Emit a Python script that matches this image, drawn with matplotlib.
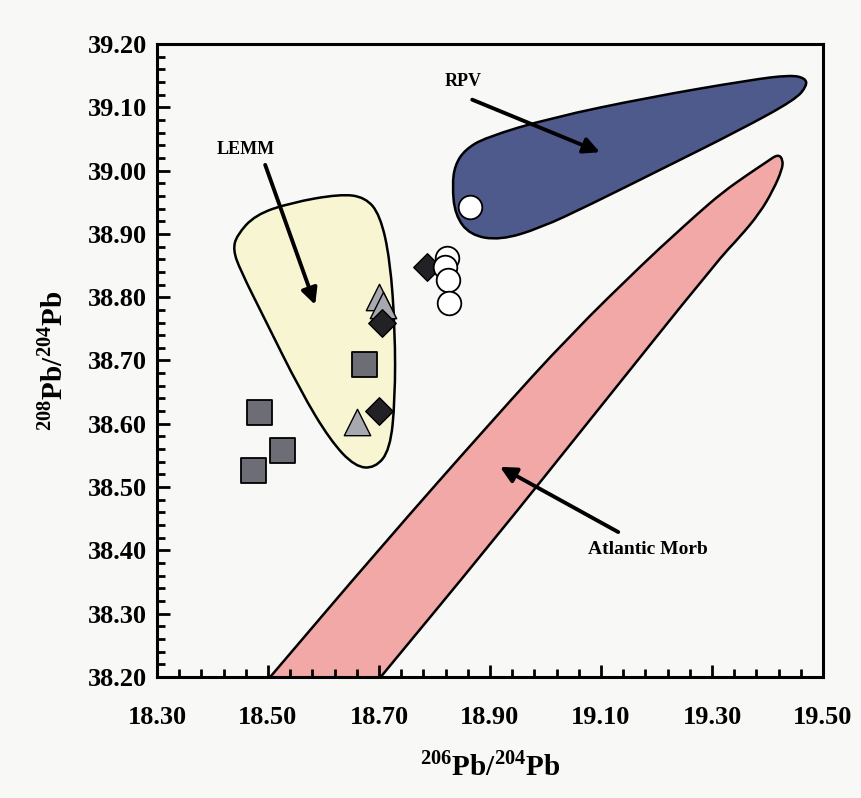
import numpy as np
import matplotlib
matplotlib.use("Agg")
import matplotlib.pyplot as plt
from matplotlib.path import Path
from matplotlib.patches import PathPatch
from matplotlib.ticker import MultipleLocator

plt.rcParams['font.family'] = 'Liberation Serif'
plt.rcParams['font.weight'] = 'bold'
plt.rcParams['mathtext.fontset'] = 'custom'
plt.rcParams['mathtext.rm'] = 'Liberation Serif:bold'
plt.rcParams['mathtext.bf'] = 'Liberation Serif:bold'

# axis ticks
x_ticks = [18.30, 18.50, 18.70, 18.90, 19.10, 19.30, 19.50]
x_labels = ['18.30', '18.50', '18.70', '18.90', '19.10', '19.30', '19.50']
y_ticks = [38.20, 38.30, 38.40, 38.50, 38.60, 38.70, 38.80, 38.90, 39.00, 39.10, 39.20]
y_labels = ['38.20', '38.30', '38.40', '38.50', '38.60', '38.70', '38.80', '38.90',
            '39.00', '39.10', '39.20']

# field outlines (206Pb/204Pb, 208Pb/204Pb)
rpv_x = [18.832, 18.837, 18.855, 18.891, 19.008, 19.188, 19.368, 19.441, 19.468,
         19.471, 19.450, 19.350, 19.206, 19.080, 18.990, 18.918, 18.864, 18.837]
rpv_y = [38.977, 39.009, 39.033, 39.052, 39.083, 39.116, 39.143, 39.151, 39.146,
         39.134, 39.112, 39.064, 39.001, 38.946, 38.909, 38.890, 38.898, 38.930]

lemm_x = [18.444, 18.477, 18.540, 18.630, 18.675, 18.702, 18.720, 18.729, 18.729,
          18.720, 18.693, 18.657, 18.612, 18.558, 18.495, 18.450, 18.437]
lemm_y = [38.898, 38.930, 38.949, 38.963, 38.958, 38.930, 38.859, 38.748, 38.638,
          38.559, 38.530, 38.532, 38.574, 38.653, 38.764, 38.843, 38.875]

morb_x = [18.359, 18.460, 18.562, 18.610, 18.703, 18.900, 19.080, 19.311, 19.350,
          19.386, 19.410, 19.426, 19.428, 19.419, 19.399, 19.363, 19.318, 19.273,
          19.228, 19.183, 19.044, 18.905, 18.702, 18.504, 18.430]
morb_y = [38.050, 38.050, 38.050, 38.101, 38.200, 38.409, 38.606, 38.859, 38.895,
          38.933, 38.969, 39.001, 39.017, 39.026, 39.014, 38.993, 38.965, 38.931,
          38.895, 38.859, 38.740, 38.606, 38.404, 38.200, 38.124]

# samples
sq_x = [18.484, 18.525, 18.473, 18.673]
sq_y = [38.619, 38.559, 38.527, 38.694]
tri_x = [18.660, 18.700, 18.707]
tri_y = [38.603, 38.800, 38.788]
dia_x = [18.705, 18.700, 18.786]
dia_y = [38.759, 38.620, 38.848]
circ_x = [18.864, 18.8225, 18.819, 18.824, 18.826]
circ_y = [38.943, 38.862, 38.848, 38.827, 38.791]


def smooth_patch(xs, ys, **kw):
    v = np.column_stack([xs, ys])
    n = len(v)
    mids = (v + np.roll(v, -1, axis=0)) / 2
    verts = [mids[-1]]
    codes = [Path.MOVETO]
    for i in range(n):
        verts += [v[i], mids[i]]
        codes += [Path.CURVE3, Path.CURVE3]
    return PathPatch(Path(verts, codes), **kw)


fig = plt.figure(figsize=(8.61, 7.98), dpi=100, facecolor='#f8f8f7')
ax = fig.add_axes([0.1823, 0.1516, 0.7736, 0.7933], facecolor='#f8f8f7')

ax.add_patch(smooth_patch(morb_x, morb_y, facecolor='#f2a8a7', edgecolor='black', lw=1.8, zorder=1))
ax.add_patch(smooth_patch(lemm_x, lemm_y, facecolor='#f8f5d3', edgecolor='black', lw=1.8, zorder=1))
ax.add_patch(smooth_patch(rpv_x, rpv_y, facecolor='#4f5a8c', edgecolor='black', lw=1.8, zorder=1))

ax.scatter(sq_x, sq_y, marker='s', s=18**2, c='#6d6d75', edgecolors='black', linewidths=1.3, zorder=3)
ax.scatter(tri_x, tri_y, marker='^', s=19**2, c='#a8a8b0', edgecolors='black', linewidths=1.0, zorder=3)
ax.scatter(dia_x, dia_y, marker='D', s=14**2, c='#222226', edgecolors='black', linewidths=1.0, zorder=4)
ax.scatter(circ_x, circ_y, marker='o', s=17**2, c='white', edgecolors='black', linewidths=1.3, zorder=5)

arrow = dict(arrowstyle='-|>', lw=2.8, color='black', mutation_scale=24, shrinkA=0, shrinkB=0)
ax.text(18.851, 39.140, 'RPV', ha='center', va='center', fontsize=13, fontweight='bold')
ax.annotate('', xy=(19.098, 39.029), xytext=(18.868, 39.112), arrowprops=arrow, zorder=6)
ax.text(18.459, 39.033, 'LEMM', ha='center', va='center', fontsize=13, fontweight='bold')
ax.annotate('', xy=(18.585, 38.788), xytext=(18.495, 39.009), arrowprops=arrow, zorder=6)
ax.text(19.185, 38.401, 'Atlantic Morb', ha='center', va='center', fontsize=14, fontweight='bold')
ax.annotate('', xy=(18.918, 38.532), xytext=(19.131, 38.429), arrowprops=arrow, zorder=6)

ax.set_xlim(18.30, 19.50)
ax.set_ylim(38.20, 39.20)
ax.set_xticks(x_ticks)
ax.set_xticklabels(x_labels, fontweight='bold')
ax.set_yticks(y_ticks)
ax.set_yticklabels(y_labels, fontweight='bold')
ax.xaxis.set_minor_locator(MultipleLocator(0.04, offset=0.02))
ax.yaxis.set_minor_locator(MultipleLocator(0.02))
ax.tick_params(which='both', direction='in', top=False, right=False, width=2, labelsize=19)
ax.tick_params(axis='x', which='major', pad=21)
ax.tick_params(axis='y', which='major', pad=7)
ax.tick_params(which='major', length=9)
ax.tick_params(which='minor', length=6)
for sp in ax.spines.values():
    sp.set_linewidth(2.2)

ax.set_xlabel(r'$^{206}$Pb/$^{204}$Pb', fontsize=21, fontweight='bold', labelpad=16)
ax.set_ylabel(r'$^{208}$Pb/$^{204}$Pb', fontsize=21, fontweight='bold', labelpad=14)

fig.savefig('out.png', dpi=100, facecolor=fig.get_facecolor())
